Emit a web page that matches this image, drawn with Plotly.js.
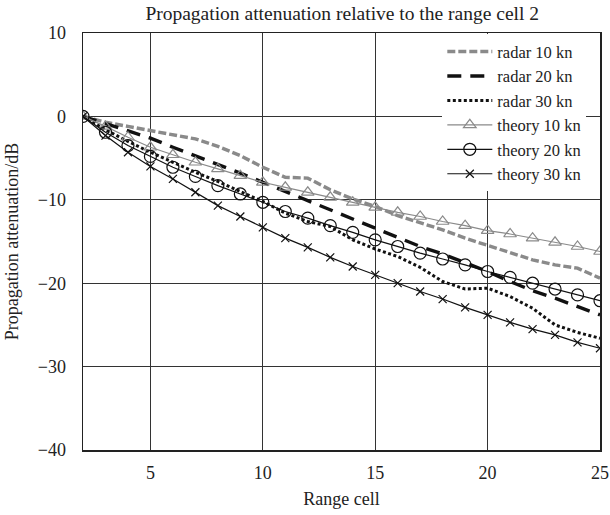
<!DOCTYPE html>
<html>
<head>
<meta charset="utf-8">
<script src="https://cdn.plot.ly/plotly-3.0.1.min.js"></script>
<style>html,body{margin:0;padding:0;background:#fff;}#chart{width:610px;height:515px;}</style>
</head>
<body>
<div id="chart"></div>
<script>
// Range cells
const rangeCells = [2,3,4,5,6,7,8,9,10,11,12,13,14,15,16,17,18,19,20,21,22,23,24,25];

// Measured (radar) attenuation, dB
const radar10 = [0,-0.7,-1.2,-1.7,-2.1,-2.7,-3.6,-4.7,-6.1,-7.3,-7.4,-8.8,-9.9,-10.8,-11.9,-12.7,-13.6,-14.6,-15.5,-16.4,-17.2,-17.8,-18.2,-19.4];
const radar20 = [0,-0.9,-1.7,-2.6,-3.7,-4.7,-5.8,-6.8,-7.9,-9.0,-10.2,-11.2,-12.3,-13.4,-14.5,-15.6,-16.5,-17.5,-18.6,-19.8,-20.9,-21.8,-22.8,-23.8];
const radar30 = [0,-1.6,-3.0,-4.3,-5.5,-6.7,-7.8,-9.0,-10.2,-11.6,-12.6,-13.2,-14.8,-15.9,-16.8,-18.1,-19.8,-20.7,-20.6,-21.6,-23.0,-25.0,-25.9,-26.6];

// Theoretical attenuation, dB
const theory10 = [0,-1.2,-2.5,-3.7,-4.6,-5.5,-6.3,-7.1,-7.9,-8.5,-9.1,-9.7,-10.3,-10.9,-11.5,-12.0,-12.6,-13.1,-13.7,-14.1,-14.6,-15.1,-15.6,-16.2];
const theory20 = [0,-1.9,-3.5,-4.8,-6.1,-7.2,-8.3,-9.3,-10.3,-11.4,-12.2,-13.1,-13.9,-14.8,-15.6,-16.4,-17.1,-17.8,-18.6,-19.3,-20.0,-20.7,-21.4,-22.1];
const theory30 = [0,-2.3,-4.3,-6.0,-7.5,-9.1,-10.7,-12.0,-13.3,-14.6,-15.7,-16.9,-18.0,-19.0,-20.0,-21.0,-21.9,-22.9,-23.8,-24.7,-25.5,-26.2,-27.1,-27.8];

const seriesNames = ['radar 10 kn','radar 20 kn','radar 30 kn','theory 10 kn','theory 20 kn','theory 30 kn'];
const xTicks = [5,10,15,20,25];
const yTicks = [-40,-30,-20,-10,0,10];

const FONT = 'Liberation Serif';
const GRAY = '#8a8a8a';

const traces = [
  {x: rangeCells, y: radar10, name: seriesNames[0], mode: 'lines',
   line: {color: GRAY, width: 3.4, dash: '8px,3px'}},
  {x: rangeCells, y: radar20, name: seriesNames[1], mode: 'lines',
   line: {color: '#111', width: 3.4, dash: '14px,9px'}},
  {x: rangeCells, y: radar30, name: seriesNames[2], mode: 'lines',
   line: {color: '#111', width: 3, dash: '3px,2.5px'}},
  {x: rangeCells, y: theory10, name: seriesNames[3], mode: 'lines+markers',
   line: {color: GRAY, width: 1.2},
   marker: {symbol: 'triangle-up-open', size: 11, color: GRAY, line: {width: 1.2, color: GRAY}}},
  {x: rangeCells, y: theory20, name: seriesNames[4], mode: 'lines+markers',
   line: {color: '#111', width: 1.2},
   marker: {symbol: 'circle-open', size: 12, color: '#111', line: {width: 1.2, color: '#111'}}},
  {x: rangeCells, y: theory30, name: seriesNames[5], mode: 'lines+markers',
   line: {color: '#111', width: 1.2},
   marker: {symbol: 'x-thin-open', size: 8, color: '#111', line: {width: 1.2, color: '#111'}}}
];

const layout = {
  width: 610, height: 515,
  margin: {l: 83, r: 10, t: 33, b: 65},
  paper_bgcolor: '#fff', plot_bgcolor: '#fff',
  font: {family: FONT, size: 18, color: '#222'},
  title: {text: 'Propagation attenuation relative to the range cell 2',
          font: {family: FONT, size: 19.5, color: '#222'},
          x: 0.561, xanchor: 'center', y: 0.975, yanchor: 'middle'},
  xaxis: {range: [2, 25], tickvals: xTicks, ticks: '', showgrid: true,
          gridcolor: '#333', gridwidth: 1.2, showline: true, mirror: true,
          linecolor: '#222', linewidth: 1.5, zeroline: false,
          ticklabelstandoff: 6, tickfont: {family: FONT, size: 18},
          title: {text: 'Range cell', font: {family: FONT, size: 18}, standoff: 10}},
  yaxis: {range: [-40, 10], tickvals: yTicks, ticks: '', showgrid: true,
          gridcolor: '#333', gridwidth: 1.2, showline: true, mirror: true,
          linecolor: '#222', linewidth: 1.5, zeroline: false,
          ticklabelstandoff: 12, tickfont: {family: FONT, size: 18},
          title: {text: 'Propagation attenuation/dB', font: {family: FONT, size: 18}, standoff: 14}},
  legend: {x: 0.695, xanchor: 'left', y: 0.997, yanchor: 'top', bgcolor: '#fff',
           borderwidth: 0, font: {family: FONT, size: 16.5, color: '#222'},
           itemwidth: 45, tracegroupgap: 0},
  showlegend: true
};

Plotly.newPlot('chart', traces, layout, {displayModeBar: false, staticPlot: true});
</script>
</body>
</html>
